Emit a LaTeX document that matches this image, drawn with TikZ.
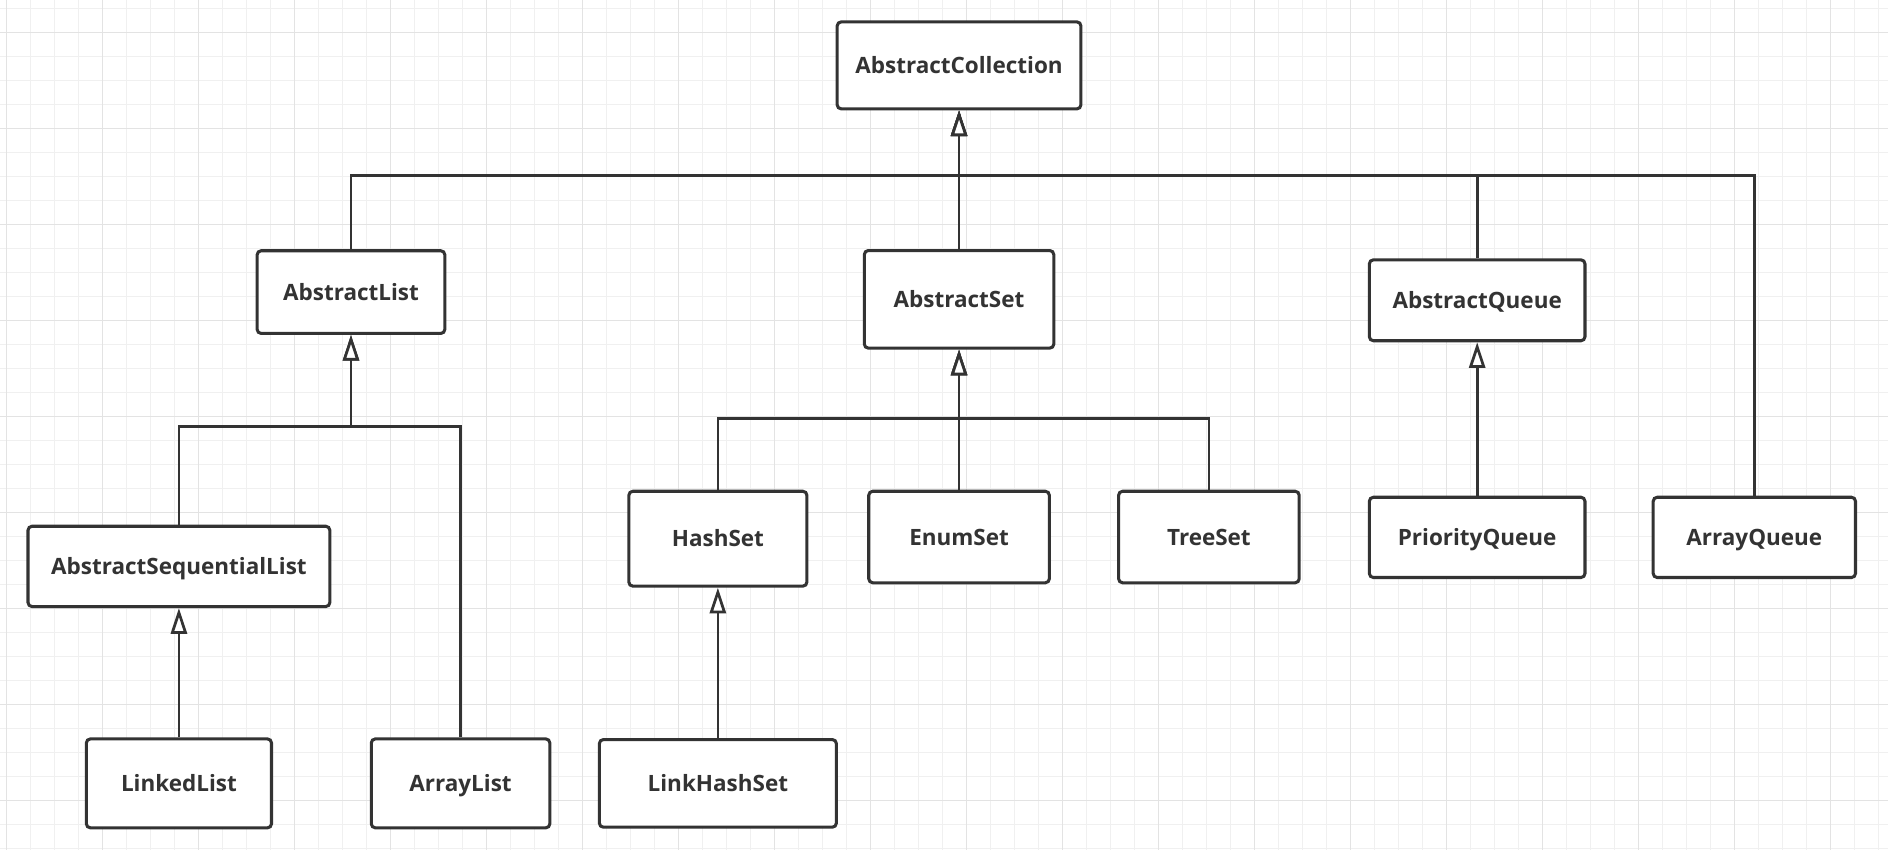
\documentclass[tikz,border=0pt]{standalone}
\usepackage{fontspec}
\setmainfont{Open Sans}[Ligatures=NoCommon]
\usetikzlibrary{arrows.meta}
\definecolor{linec}{HTML}{333333}
\definecolor{gridmin}{HTML}{F0F0F0}
\definecolor{gridmaj}{HTML}{E3E3E3}

\begin{document}
\begin{tikzpicture}[x=0.75pt, y=-0.75pt,
	cls/.style={draw=linec, line width=1.9pt, rounded corners=2.5pt, fill=white, text=linec, font=\fontsize{14}{16}\selectfont\bfseries, inner sep=0pt, text height=10pt, text depth=0pt},
	inh/.style={draw=linec, line width=1.7pt, -{Triangle[length=16pt, width=10pt, fill=white]}},
	gline/.style={line width=0.8pt}]
	\useasboundingbox (0,0) rectangle (1568,706);
	\fill[white] (0,0) rectangle (1568,706);
	% background grid
	\foreach \x in {5.5,25.43,...,1568} \draw[gline, gridmin] (\x,0) -- (\x,706);
	\foreach \y in {6.9,26.83,...,706} \draw[gline, gridmin] (0,\y) -- (1568,\y);
	\foreach \x in {5.5,85.22,...,1568} \draw[gline, gridmaj] (\x,0) -- (\x,706);
	\foreach \y in {26.83,106.55,...,706} \draw[gline, gridmaj] (0,\y) -- (1568,\y);

	\node[cls, minimum width=151.8pt, minimum height=54.2pt] (coll) at (796.5,54.3) {AbstractCollection};
	\node[cls, minimum width=116.9pt, minimum height=51.5pt] (alist) at (291.5,242.6) {AbstractList};
	\node[cls, minimum width=118pt, minimum height=60.8pt] (aset) at (796.5,248.6) {AbstractSet};
	\node[cls, minimum width=134.3pt, minimum height=50.4pt] (aqueue) at (1226.8,249.4) {AbstractQueue};
	\node[cls, minimum width=188pt, minimum height=50pt] (aseqlist) at (148.6,470.4) {AbstractSequentialList};
	\node[cls, minimum width=110.9pt, minimum height=59.1pt] (hashset) at (596.2,447.4) {HashSet};
	\node[cls, minimum width=112.5pt, minimum height=57pt] (enumset) at (796.5,446) {EnumSet};
	\node[cls, minimum width=112.5pt, minimum height=57pt] (treeset) at (1004,446) {TreeSet};
	\node[cls, minimum width=134.3pt, minimum height=50pt] (pqueue) at (1226.8,446.3) {PriorityQueue};
	\node[cls, minimum width=126pt, minimum height=50pt] (arrqueue) at (1457,446.3) {ArrayQueue};
	\node[cls, minimum width=115.3pt, minimum height=55.4pt] (linkedlist) at (148.6,650.6) {LinkedList};
	\node[cls, minimum width=111.2pt, minimum height=55.4pt] (arraylist) at (382.5,650.6) {ArrayList};
	\node[cls, minimum width=147.6pt, minimum height=54.6pt] (linkhashset) at (596.2,650.6) {LinkHashSet};

	\coordinate (topbus) at (0,146);
	\coordinate (listbus) at (0,354.4);
	\coordinate (setbus) at (0,347.5);

	\draw[inh] (alist.north) |- (coll.south |- topbus) -- (coll.south);
	\draw[inh] (aset.north) -- (coll.south);
	\draw[inh] (aqueue.north) |- (coll.south |- topbus) -- (coll.south);
	\draw[inh] (arrqueue.north) |- (coll.south |- topbus) -- (coll.south);
	\draw[inh] (aseqlist.north) |- (alist.south |- listbus) -- (alist.south);
	\draw[inh] (arraylist.north) |- (alist.south |- listbus) -- (alist.south);
	\draw[inh] (linkedlist.north) -- (aseqlist.south);
	\draw[inh] (hashset.north) |- (aset.south |- setbus) -- (aset.south);
	\draw[inh] (enumset.north) -- (aset.south);
	\draw[inh] (treeset.north) |- (aset.south |- setbus) -- (aset.south);
	\draw[inh] (linkhashset.north) -- (hashset.south);
	\draw[inh] (pqueue.north) -- (aqueue.south);
\end{tikzpicture}
\end{document}
